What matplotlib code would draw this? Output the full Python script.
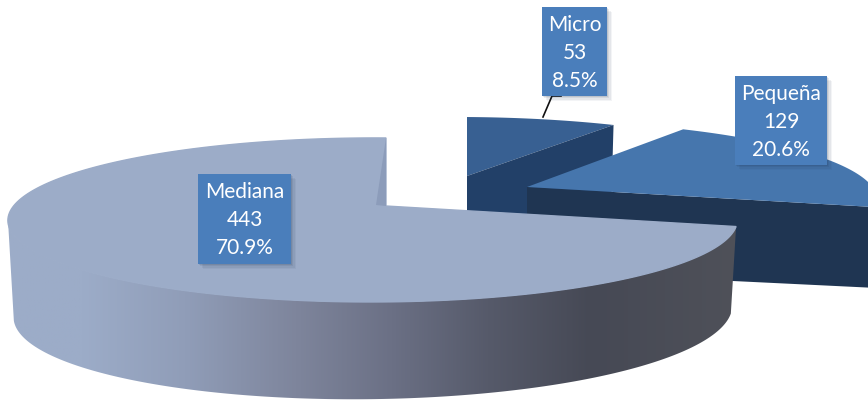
import matplotlib.pyplot as plt
import numpy as np
from matplotlib.colors import LinearSegmentedColormap
from matplotlib.patches import Polygon, Rectangle

categories = ['Micro', 'Pequeña', 'Mediana']
counts = [53, 129, 443]
percents = ['8.5%', '20.6%', '70.9%']

# perspective of the pie plane
K = 0.17
M = 0.036
WALL_SCALE = 0.985

# slice origin, radii and wall height in pixels (exploded slices differ)
micro_geo = dict(x0=467, y0=176, rx=336, ry=69, h=86)
small_geo = dict(x0=527, y0=187, rx=358, ry=78, h=84)
medium_geo = dict(x0=386, y0=206, rx=359, ry=79.6, h=90.4)


def top_pts(deg, g):
    t = np.radians(deg)
    u, v = np.cos(t), np.sin(t)
    d = 1 + K * v + M * u
    return g['x0'] + g['rx'] * u / d, g['y0'] - g['ry'] * v / d


def bottom_pts(deg, g):
    t = np.radians(deg)
    u, v = np.cos(t), np.sin(t)
    x, y = top_pts(deg, g)
    return g['x0'] + WALL_SCALE * (x - g['x0']), y + g['h'] - 5.3 * u - 6.6 * v


def face(a, b, g):
    deg = np.linspace(a, b, 200)
    x, y = top_pts(deg, g)
    return np.column_stack([np.r_[g['x0'], x], np.r_[g['y0'], y]])


def radial_wall(deg, g):
    x, y = top_pts(deg, g)
    xb, yb = bottom_pts(deg, g)
    return [(g['x0'], g['y0']), (x, y), (xb, yb), (g['x0'], g['y0'] + g['h'])]


def arc_wall(a, b, g):
    deg = np.linspace(a, b, 300)
    x, y = top_pts(deg, g)
    xb, yb = bottom_pts(deg, g)
    return np.column_stack([np.r_[x, xb[::-1]], np.r_[y, yb[::-1]]])


# angles go clockwise from 12 o'clock
edges = 90 - np.r_[0, np.cumsum(counts)] / np.sum(counts) * 360

fig = plt.figure(figsize=(8.68, 4.0), dpi=100)
ax = fig.add_axes([0, 0, 1, 1])

# Micro
ax.add_patch(Polygon(face(edges[0], edges[1], micro_geo), fc='#386092', ec='none', zorder=1))
ax.add_patch(Polygon(radial_wall(edges[1], micro_geo), fc='#224068', ec='none', zorder=2))

# Pequena
ax.add_patch(Polygon(radial_wall(edges[2], small_geo), fc='#1f3552', ec='none', zorder=3))
ax.add_patch(Polygon(face(edges[1], edges[2], small_geo), fc='#4676ad', ec='none', zorder=4))

# Mediana: side with the gradient, then the top
shade = LinearSegmentedColormap.from_list('wall', [
    (0.0, '#9cacc8'), (0.11, '#9cacc8'), (0.25, '#909db8'), (0.4, '#7e859c'),
    (0.53, '#6b7085'), (0.66, '#565a6a'), (0.8, '#464955'), (1.0, '#4f5159')])
grad = np.linspace(0, 1, 256).reshape(1, -1)
im = ax.imshow(grad, cmap=shade, extent=[0, 740, 400, 200], aspect='auto', zorder=5)
wall = Polygon(arc_wall(edges[2], -168, medium_geo), fc='none', ec='none', zorder=5)
ax.add_patch(wall)
im.set_clip_path(wall)

ax.add_patch(Polygon(face(edges[2], edges[3], medium_geo), fc='#9cacc8', ec='#9cacc8', lw=1.0, zorder=6))
# little inner wall next to the 12 o'clock edge
top_x, top_y = top_pts(90, medium_geo)
ax.add_patch(Polygon([(top_x, top_y), (medium_geo['x0'], medium_geo['y0']),
                      (medium_geo['x0'] - 10, medium_geo['y0'] - 1)],
                     fc='#8c9cba', ec='none', zorder=7))

# leader line of Micro
ax.plot([543, 552, 561], [117, 96, 96], color='#111111', lw=1.2, zorder=8)

# data labels
boxes = [(542, 7, 65, 89), (735, 76, 92, 89), (198, 174, 93, 90)]
for name, n, pct, (bx, by, bw, bh) in zip(categories, counts, percents, boxes):
    for off, al in [(6, 0.05), (4.5, 0.07), (3, 0.09), (1.5, 0.12)]:
        ax.add_patch(Rectangle((bx + off - 1, by + off - 1), bw, bh, fc='#1f3552',
                               alpha=al, ec='none', zorder=9))
    ax.add_patch(Rectangle((bx, by), bw, bh, fc='#4a7ebb', ec='none', zorder=10))
    ax.text(bx + bw / 2, by + bh / 2 + 1.5, f'{name}\n{n}\n{pct}', color='white', ha='center',
            va='center', family='Lato', fontsize=15, linespacing=1.5, zorder=11)

ax.set_xlim(0, 868)
ax.set_ylim(400, 0)
ax.axis('off')
fig.savefig('out.png', dpi=100, facecolor='white')
